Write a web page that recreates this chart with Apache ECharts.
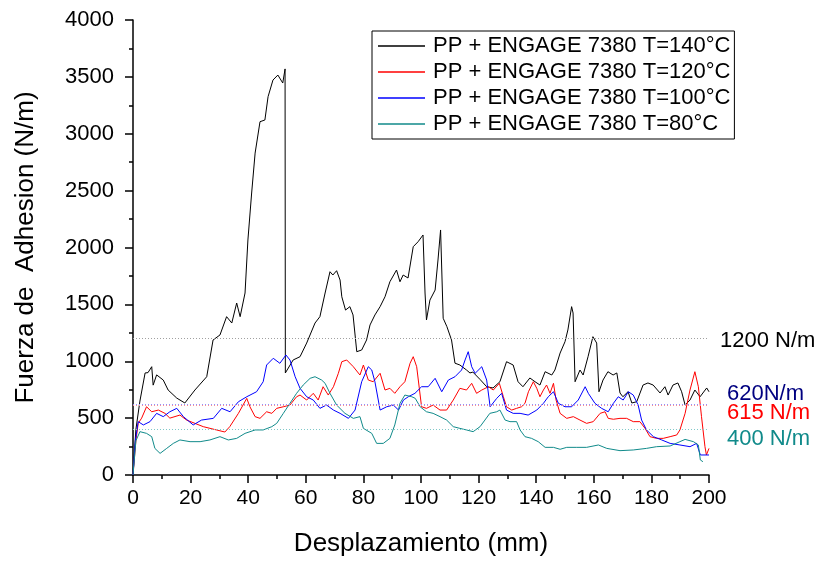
<!DOCTYPE html>
<html>
<head>
<meta charset="utf-8">
<script src="https://cdn.jsdelivr.net/npm/echarts@6/dist/echarts.min.js"></script>
<style>html,body{margin:0;padding:0;background:#fff}#c{width:817px;height:562px}</style>
</head>
<body>
<div id="c"></div>
<script>
const seriesNames = ['PP + ENGAGE 7380 T=140°C','PP + ENGAGE 7380 T=120°C','PP + ENGAGE 7380 T=100°C','PP + ENGAGE 7380 T=80°C'];
const xTicks = [0,20,40,60,80,100,120,140,160,180,200];
const yTicks = [0,500,1000,1500,2000,2500,3000,3500,4000];

const x140 = [0,1,2.4,4.2,5.2,6.5,7,8.2,10.5,12.2,15.2,18,21.5,25.6,27.8,30.2,32.5,34.3,36,37.2,38.9,39.9,41.2,42.4,44.1,45.8,46.9,48.6,50.3,52,52.8,52.9,55.6,58,60.3,63.2,64.9,66.7,68.4,69.4,70.7,71.9,72.5,73.8,75.3,76.4,77.7,79.4,81.1,82.3,84,85.8,87.5,89.2,91.5,92.7,93.8,95.5,97.3,99,100.7,101.4,101.9,103.1,104.9,105.9,106.8,107.7,109,110.6,111.8,113.5,115.8,117,118,120.5,122.8,125,127.4,129.7,132,133.7,135.4,137.8,139.6,141.3,143.1,145.4,146.5,148.3,150,151,152.3,152.8,153.5,155.2,156.3,158,159.7,161,161.8,163.2,164.9,166.7,168,169.1,170.1,171.9,173.2,174.9,177.1,178.8,180.6,183,184.7,185.8,187.5,189.2,190.5,191.7,193.4,195.1,196.9,199.2,200];
const y140 = [0,400,650,897,900,952,790,880,835,747,676,633,747,864,1187,1231,1392,1336,1512,1392,1600,2066,2479,2830,3106,3121,3326,3472,3516,3446,3570,897,1011,1040,1160,1336,1392,1600,1787,1758,1796,1714,1567,1450,1480,1407,1084,1099,1187,1319,1407,1480,1567,1699,1802,1699,1758,1732,2007,2051,2110,1600,1363,1538,1626,1890,2154,1378,1304,1187,983,967,923,897,905,840,776,765,820,996,967,820,776,853,820,791,908,879,923,1072,1172,1275,1480,1424,820,923,879,1040,1216,1160,732,835,908,879,897,721,688,732,633,644,791,809,791,721,776,703,791,809,732,615,659,747,688,765,732];

const x120 = [0,1,1.8,3,4.7,6.5,8.8,11.1,12.8,16.3,18.6,21.5,24.4,29,31.9,33.6,36.6,39.5,40.6,42.4,44.1,46.4,48.2,49.9,52.2,54.5,56.8,58,60.3,62.6,64.3,66,67.8,69.6,71.3,72.5,74.2,76.5,78.8,80,81.7,83.4,85.8,87.5,89.2,90.9,92.7,94.4,96.2,97.3,98.5,100.2,101.9,104.2,106.6,108.9,111.2,113.5,115.8,117.6,119.3,121.1,123.4,125.1,127.2,128.6,129.7,131.5,133.2,134.9,136.1,137.3,139,140.2,141.3,142.5,143.6,144.8,146,146.9,148.3,150.6,152.9,155.2,157.5,159.8,162.2,163.9,165,166.8,169.1,171.4,173.7,176,177.8,179.5,181.8,184.1,186.5,188.8,189.9,191.7,193.4,195.1,196.3,197.4,198.6,199.1,200];
const y120 = [0,300,454,500,600,556,571,542,500,527,483,454,425,396,378,425,542,674,600,513,498,556,542,586,600,615,688,703,659,718,659,776,703,776,894,996,1011,952,879,967,835,820,894,747,762,718,776,820,982,1040,952,600,586,615,571,571,659,762,747,806,718,747,776,747,806,688,600,571,586,600,630,732,820,762,688,747,791,718,806,659,542,498,513,483,454,469,542,556,498,490,498,498,469,469,410,337,322,322,337,352,396,542,747,908,776,513,249,176,234];

const x100 = [0,0.8,1.8,3.6,5.9,8.2,10.5,12.8,15.2,17.5,20.9,23.8,27.9,30.8,33.7,36.6,39.5,42.9,45.2,46.4,48.7,51,53.1,54.5,56.3,58,60.3,62.6,64.9,67.2,69.6,71.9,74.8,77.1,79.4,81.7,82.9,84,85.8,88.1,90.4,92.2,93.9,95.6,97.9,100.2,102.5,104.9,107.2,109.5,111.8,114.1,115.3,116.4,117.6,118.8,121.1,122.8,124,126.3,128,129.7,132,134.4,137.2,140.2,142.5,144.2,146,147.7,150,152.3,154.6,157,158.1,160.4,162.7,165,166.8,168.5,170.2,172,173.7,175.4,176.6,178.3,180.7,183.6,186.5,189.9,193.4,195.7,197,200];
const y100 = [0,300,469,440,469,542,513,556,586,513,440,483,498,586,556,644,688,732,820,967,1026,982,1055,1011,864,762,688,659,586,615,571,542,498,571,820,952,923,820,571,600,615,571,659,688,718,776,776,850,732,835,864,923,1011,1084,952,894,952,835,600,674,718,571,542,542,527,571,630,688,732,630,600,600,659,776,718,630,586,556,630,688,659,732,703,615,483,396,337,308,278,264,249,278,176,176];

const x80 = [0,1,2.4,4.7,6.5,7.6,9.4,11.7,14,16.3,19.8,23.3,26.7,30.2,33.1,36,38.9,42.4,45.2,48.2,49.9,52.2,54.5,56.8,59.1,61.5,63.2,65.5,66.7,68.4,70.7,73.6,76.5,78.8,80,82.9,84.6,86.9,89.2,90.9,92.7,94.4,96.8,98,99.7,101.9,104.2,106.6,108.9,111.2,113.5,115.8,118.1,120.5,122.2,123.9,126.3,127.4,129.2,130.9,133.2,134.4,136.1,138.4,140.7,143.1,146,148.3,150.6,154.1,157.5,161.6,164.5,169.1,173.7,178.3,181.8,186.5,189.9,191.7,194.6,196.3,197,197.9];
const y80 = [0,300,381,366,337,234,190,234,278,308,293,293,308,337,308,322,366,396,396,425,454,542,630,718,791,850,864,835,806,718,615,542,498,513,410,366,278,278,322,440,630,703,688,674,600,556,542,513,483,425,410,396,381,425,483,542,556,571,483,469,469,396,337,322,293,243,243,226,243,243,243,264,234,214,220,234,249,255,293,313,293,264,132,117];

const refValues = [1200, 620, 615, 400];
const refLabels = ['1200 N/m', '620N/m', '615 N/m', '400 N/m'];

const colors = ['#000000','#ff0000','#0000ff','#108a8a'];
const refLineColors = ['#a0a0a0','#9090ff','#ff9090','#80c8c8'];
const refTextColors = ['#000000','#000080','#ff0000','#108a8a'];
const refOffsets = [[0,2],[0,-11],[0,8],[0,9]];
const refDist = [11,18,18,18];

function zip(xs, ys){ return xs.map((x,i)=>[x, ys[i]]); }
const dataSets = [zip(x140,y140), zip(x120,y120), zip(x100,y100), zip(x80,y80)];

const FONT = 'Liberation Sans, Arial, sans-serif';
const series = [];
refValues.forEach((v,i)=>{
  series.push({
    name:'ref'+i, type:'line', data:[], animation:false, z:1,
    markLine:{
      silent:true, symbol:'none', animation:false,
      lineStyle:{type:[1,2], color:refLineColors[i], width:1},
      label:{show:true, position:'end', formatter:refLabels[i], color:refTextColors[i],
             fontSize:22, fontFamily:FONT, distance:refDist[i], offset:refOffsets[i]},
      data:[{yAxis:v}]
    }
  });
});
dataSets.forEach((d,i)=>{
  series.push({
    name: seriesNames[i], type:'line', data:d, showSymbol:false, symbol:'none',
    lineStyle:{color:colors[i], width:1}, itemStyle:{color:colors[i]}, animation:false, z: 3
  });
});

const chart = echarts.init(document.getElementById('c'), null, {renderer:'canvas'});
chart.setOption({
  backgroundColor:'#fff',
  animation:false,
  grid:{left:133, right:108, top:20, bottom:87, containLabel:false},
  legend:{
    data: seriesNames, orient:'vertical', left:372, top:31,
    padding:[4,4,4,6], itemGap:4, itemWidth:47, itemHeight:1.5, icon:'rect',
    borderColor:'#000', borderWidth:1, backgroundColor:'#fff',
    textStyle:{fontSize:22, fontFamily:FONT, color:'#000', padding:[0,0,0,3]}
  },
  xAxis:{
    type:'value', min:xTicks[0], max:xTicks[xTicks.length-1], interval:20,
    name:'Desplazamiento (mm)', nameLocation:'middle', nameGap:56,
    nameTextStyle:{fontSize:26, fontFamily:FONT, color:'#000'},
    axisLine:{show:true, onZero:false, lineStyle:{color:'#000', width:1.5}},
    axisTick:{show:true, inside:false, length:8, lineStyle:{color:'#000', width:1.5}},
    minorTick:{show:true, splitNumber:2, length:4, lineStyle:{color:'#000', width:1.5}},
    axisLabel:{fontSize:21, fontFamily:FONT, color:'#000', margin:13, formatter:v=>String(v)},
    splitLine:{show:false}
  },
  yAxis:{
    type:'value', min:yTicks[0], max:yTicks[yTicks.length-1], interval:500,
    name:'Fuerza de  Adhesion (N/m)', nameLocation:'middle', nameGap:94,
    nameTextStyle:{fontSize:26, fontFamily:FONT, color:'#000'},
    axisLine:{show:true, onZero:false, lineStyle:{color:'#000', width:1.5}},
    axisTick:{show:true, inside:false, length:8, lineStyle:{color:'#000', width:1.5}},
    minorTick:{show:true, splitNumber:2, length:4, lineStyle:{color:'#000', width:1.5}},
    axisLabel:{fontSize:22, fontFamily:FONT, color:'#000', margin:19, formatter:v=>String(v)},
    splitLine:{show:false}
  },
  series: series
});
</script>
</body>
</html>
